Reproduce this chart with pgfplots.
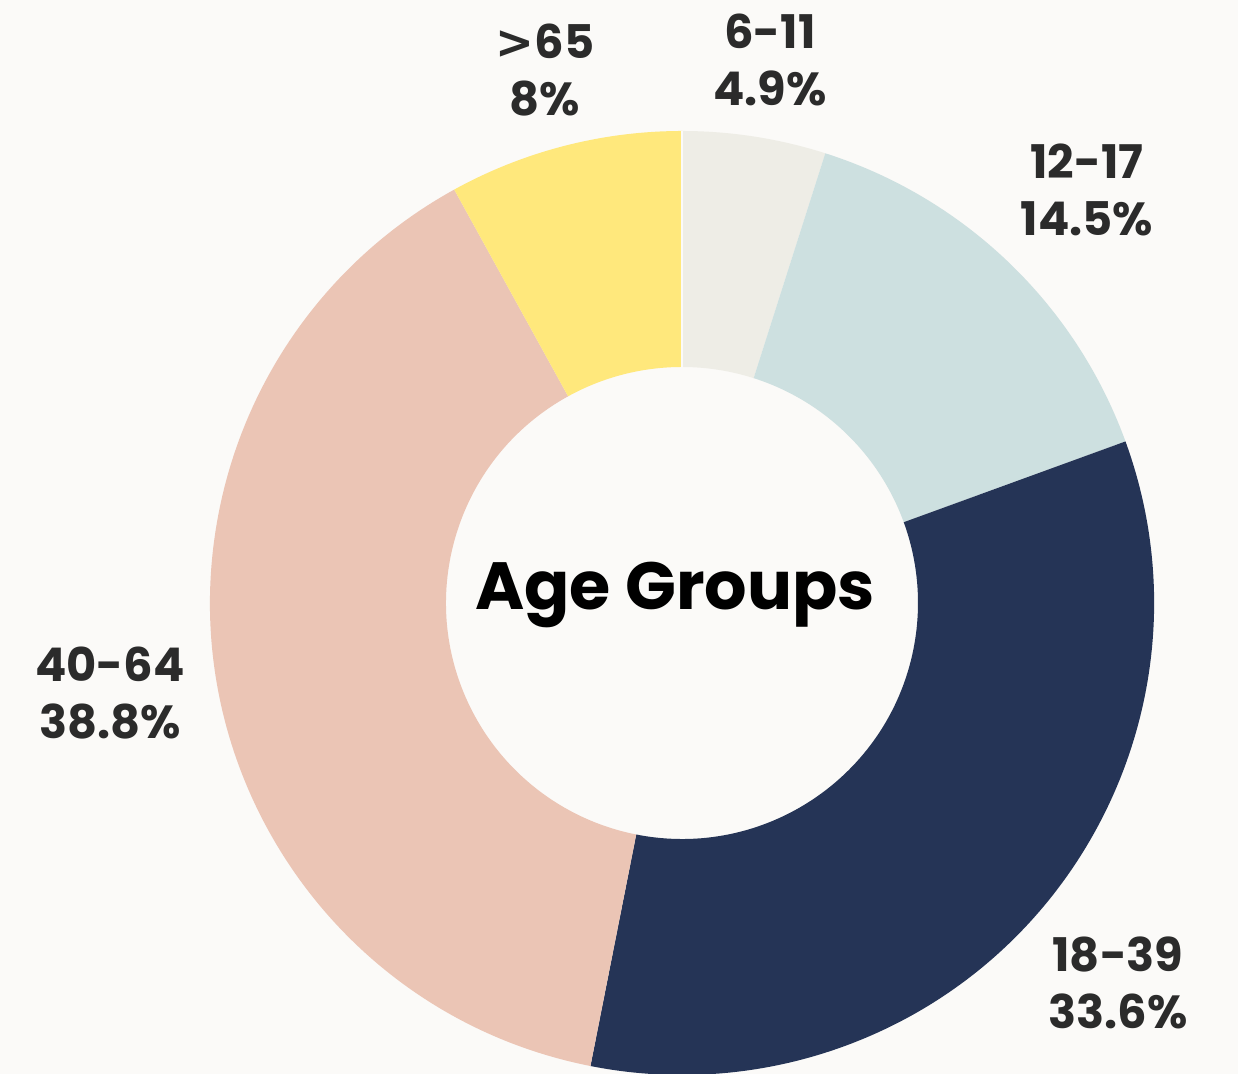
\documentclass[border=0pt]{standalone}
\usepackage{pgfplots}
\usepackage{pgfplotstable}
\pgfplotsset{compat=1.18}
\usepackage{fontspec}
\setmainfont{Poppins}[BoldFont={Poppins Bold}]
\newfontfamily\dejavu{DejaVu Sans}

\definecolor{bgc}{HTML}{FBFAF8}
\definecolor{txt}{HTML}{2B2B2B}
\definecolor{col0}{HTML}{EEEDE6}
\definecolor{col1}{HTML}{CDE0E0}
\definecolor{col2}{HTML}{253456}
\definecolor{col3}{HTML}{EBC5B5}
\definecolor{col4}{HTML}{FFE87C}

% age group shares, clockwise from the top
\pgfplotstableread[col sep=comma]{
group,value
6-11,4.9
12-17,14.5
18-39,33.6
40-64,38.8
>65,8
}\agedata

\xdef\total{0}%
\pgfplotstableforeachcolumnelement{value}\of\agedata\as\v{%
  \pgfmathsetmacro\t{\total+\v}\xdef\total{\t}}%
\xdef\cum{0}%
\pgfplotstableforeachcolumnelement{value}\of\agedata\as\v{%
  \pgfmathsetmacro\aa{90-\cum/\total*360}%
  \pgfmathsetmacro\nc{\cum+\v}%
  \pgfmathsetmacro\bb{90-\nc/\total*360}%
  \expandafter\xdef\csname sa\pgfplotstablerow\endcsname{\aa}%
  \expandafter\xdef\csname sb\pgfplotstablerow\endcsname{\bb}%
  \xdef\cum{\nc}}%

\begin{document}
\begin{tikzpicture}
\begin{axis}[
  scale only axis,
  width=12.38cm, height=10.74cm,
  xmin=0, xmax=1238, ymin=0, ymax=1074,
  hide axis,
]
  \fill[bgc] (axis cs:0,0) rectangle (axis cs:1238,1074);
  \coordinate (c) at (axis cs:682,471);
  \pgfplotsinvokeforeach{0,...,4}{
    \fill[col#1] ([shift={(\csname sa#1\endcsname:4.72cm)}]c)
      arc[start angle=\csname sa#1\endcsname, end angle=\csname sb#1\endcsname, radius=4.72cm]
      -- ([shift={(\csname sb#1\endcsname:2.36cm)}]c)
      arc[start angle=\csname sb#1\endcsname, end angle=\csname sa#1\endcsname, radius=2.36cm]
      -- cycle;
  }
  \draw[bgc, line width=0.6pt] (axis cs:682,707) -- (axis cs:682,943);

  \begin{scope}[every node/.style={font=\fontsize{13.2}{16.2}\selectfont\bfseries,
      text=txt, align=center, inner sep=0pt, anchor=center}]
    \node at (axis cs:545,1004) {{\dejavu\bfseries >}65\\8\%};
    \node at (axis cs:770,1014) {6-11\\4.9\%};
    \node at (axis cs:1087,884) {12-17\\14.5\%};
    \node at (axis cs:1118,91) {18-39\\33.6\%};
    \node at (axis cs:110,381) {40-64\\38.8\%};
  \end{scope}
  \node[font=\fontsize{19}{22}\selectfont\bfseries, text=black, anchor=base,
    inner sep=0pt] at (axis cs:675,464) {Age Groups};
\end{axis}
\end{tikzpicture}
\end{document}
